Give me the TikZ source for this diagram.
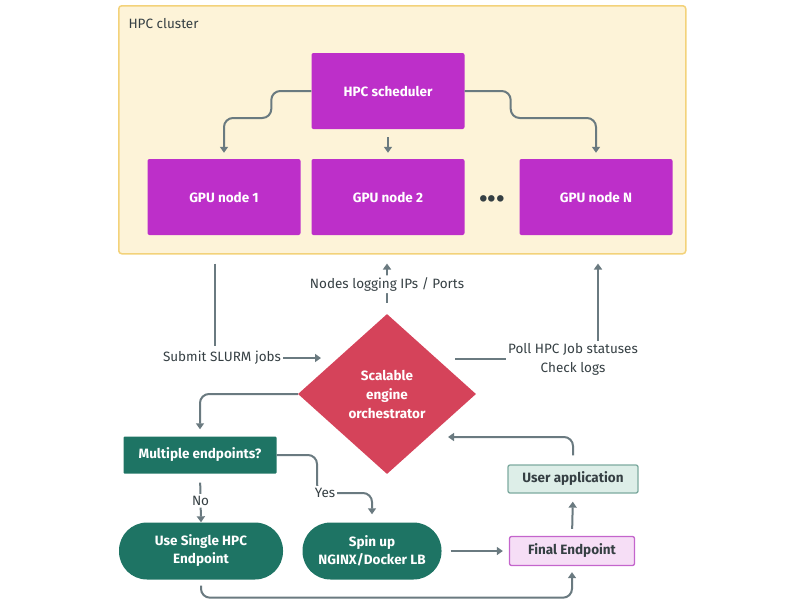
\documentclass[tikz,border=0pt]{standalone}
\usepackage{fontspec}
\setmainfont{Fira Sans}
\usetikzlibrary{shapes.geometric,arrows.meta}

\definecolor{clusterfill}{HTML}{FDF3D8}
\definecolor{clusterline}{HTML}{F3D27A}
\definecolor{hpcmag}{HTML}{BD2FC9}
\definecolor{orchred}{HTML}{D5435A}
\definecolor{tealbox}{HTML}{1E7464}
\definecolor{finalfill}{HTML}{F6DEF6}
\definecolor{finalline}{HTML}{C465CC}
\definecolor{userfill}{HTML}{DDEEE8}
\definecolor{userline}{HTML}{7DAA9F}
\definecolor{arrgray}{HTML}{6A7A80}
\definecolor{lblgray}{HTML}{353F43}

\begin{document}
\begin{tikzpicture}[x=1pt, y=-1pt,
	hpcbox/.style={
		fill=hpcmag, rounded corners=2pt,
		minimum width=153pt, minimum height=76pt,
		text=white, font=\fontsize{13.5}{18}\selectfont\bfseries
	},
	tealrect/.style={
		fill=tealbox, rounded corners=1pt,
		minimum width=153pt, minimum height=37pt,
		text=white, font=\fontsize{13.5}{18}\selectfont\bfseries
	},
	pill/.style={
		fill=tealbox, rounded corners=28pt,
		minimum height=57pt, align=center,
		text=white, font=\fontsize{13.5}{18}\selectfont\bfseries
	},
	lightbox/.style={
		line width=1.3pt, rounded corners=2pt,
		text=lblgray, font=\fontsize{13.5}{18}\selectfont\bfseries
	},
	lbl/.style={text=lblgray, inner sep=2pt, font=\fontsize{13.5}{19}\selectfont},
	ln/.style={draw=arrgray, line width=2pt},
	arr/.style={ln, -{Triangle[length=6pt,width=8pt]}, rounded corners=9pt},
	]
	\useasboundingbox (0,0) rectangle (800,600);

	% cluster frame
	\node[draw=clusterline, fill=clusterfill, line width=1.5pt, rounded corners=3pt,
		minimum width=567pt, minimum height=248pt, inner sep=0pt, anchor=north west] (cluster) at (118,5) {};
	\node[anchor=west, text=lblgray, font=\fontsize{13.5}{16}\selectfont] (cltitle) at (125,24) {HPC cluster};

	\node[hpcbox] (sched) at (388,91)  {HPC scheduler};
	\node[hpcbox] (gpu1)  at (224,197) {GPU node 1};
	\node[hpcbox] (gpu2)  at (388,197) {GPU node 2};
	\node[hpcbox] (gpuN)  at (596,197) {GPU node N};
	\node[text=lblgray, font=\fontsize{36}{36}\selectfont\bfseries] (dots) at (492,199) {...};

	\draw[arr, shorten >=6pt] (sched.west) -- ++(-40,0) -- ++(0,27) -| (gpu1.north);
	\draw[arr, shorten <=8pt, shorten >=6pt] (sched.south) -- (gpu2.north);
	\draw[arr, shorten >=6pt] (sched.east) -- ++(46,0) -- ++(0,27) -| (gpuN.north);

	% orchestrator
	\node[diamond, fill=orchred, minimum width=178pt, minimum height=160pt, inner sep=0pt,
		align=center, text=white, font=\fontsize{13.5}{19}\selectfont\bfseries] (orch) at (387,394)
		{Scalable\\engine\\orchestrator};

	\coordinate (slurmx)  at (215,0);
	\coordinate (slurmin) at (321,358);
	\node[lbl] (submit) at (222,358) {Submit SLURM jobs};
	\draw[ln, shorten <=9pt, shorten >=3pt] (cluster.south -| slurmx) -- (submit.north -| slurmx);
	\draw[arr] (submit.east) -- (slurmin);

	\draw[arr, shorten <=11pt, shorten >=9pt] (orch.north) -- (cluster.south -| orch.north)
		node[lbl, midway, fill=white] {Nodes logging IPs / Ports};

	\coordinate (pollin) at (455,359);
	\coordinate (pollup) at (598,341);
	\node[lbl, align=center] (poll) at (573,359) {Poll HPC Job statuses\\Check logs};
	\draw[ln] (pollin) -- (poll.west);
	\draw[arr, shorten >=9pt] (pollup) -- (cluster.south -| pollup);

	% endpoint branch
	\node[tealrect] (multi)  at (200,455) {Multiple endpoints?};
	\node[pill, minimum width=164pt] (single) at (201,551) {Use Single HPC\\Endpoint};
	\node[pill, minimum width=139pt] (spin)   at (372,551) {Spin up\\NGINX/Docker LB};
	\node[lightbox, draw=finalline, fill=finalfill, minimum width=125pt, minimum height=29pt] (final) at (572,551) {Final Endpoint};
	\node[lightbox, draw=userline, fill=userfill, minimum width=130pt, minimum height=28pt] (user) at (573,479) {User application};

	\draw[arr, shorten >=7pt] (orch.west) -| (multi.north);
	\draw[arr, shorten <=9pt] (multi.south) -- (single.north)
		node[lbl, pos=0.56, fill=white] {No};

	\coordinate (yes) at (317,493);
	\draw[arr, shorten >=8pt] (multi.east) -| (yes) -| (spin.north);
	\node[lbl, fill=white, xshift=8pt] (yeslbl) at (yes) {Yes};

	\draw[arr, shorten <=9pt, shorten >=6pt] (spin.east) -- (final.west);
	\draw[arr, shorten <=7pt, shorten >=8pt] (final.north) -- (user.south);

	\coordinate (backin) at (448,437);
	\draw[arr, shorten <=9pt] (user.north) |- (backin);

	\draw[arr, shorten <=6pt, shorten >=6pt] (single.south) -- ++(0,18) -| (final.south);
\end{tikzpicture}
\end{document}
